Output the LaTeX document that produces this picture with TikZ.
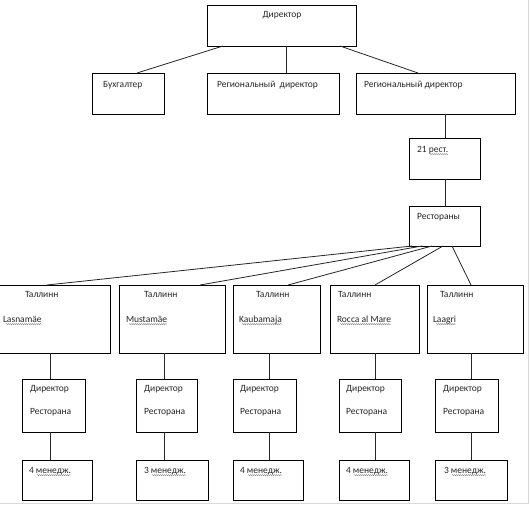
\documentclass[tikz,border=0pt]{standalone}
\usepackage{fontspec}
\setmainfont{Carlito}
\usetikzlibrary{decorations.pathmorphing}
\begin{document}
\begin{tikzpicture}[x=1bp,y=-1bp,
  box/.style={draw=black,line width=0.9bp,rectangle,inner sep=0,outer sep=0,fill=white},
  conn/.style={draw=black!85,line width=0.8bp},
  txt/.style={inner sep=0,outer sep=0,anchor=base west,font=\fontsize{9.5bp}{11bp}\selectfont,text=black!85},
  wavy/.style={draw=black!45,line width=0.4bp,decorate,decoration={snake,amplitude=0.6bp,segment length=2bp}}
]
\useasboundingbox (0,0) rectangle (530,506);
\fill[white] (0,0) rectangle (530,506);
\draw[black!15,line width=1bp] (528,0) -- (528,503) -- (0,503);

% boxes
\node[box,minimum width=149bp,minimum height=41bp] (dir) at (281.5,25.5) {};
\node[box,minimum width=72bp,minimum height=41bp] (buch) at (128,93.5) {};
\node[box,minimum width=132bp,minimum height=41bp] (reg1) at (273,93.5) {};
\node[box,minimum width=159bp,minimum height=41bp] (reg2) at (435.5,93.5) {};
\node[box,minimum width=71bp,minimum height=41bp] (r21) at (444.5,158.5) {};
\node[box,minimum width=71bp,minimum height=40bp] (rest) at (444.5,226) {};

\node[box,minimum width=112bp,minimum height=68bp] (t1) at (54,319) {};
\node[box,minimum width=106bp,minimum height=68bp] (t2) at (172,319) {};
\node[box,minimum width=87bp,minimum height=68bp] (t3) at (276.5,319) {};
\node[box,minimum width=89bp,minimum height=68bp] (t4) at (374.5,319) {};
\node[box,minimum width=96bp,minimum height=68bp] (t5) at (475,319) {};

\node[box,minimum width=63bp,minimum height=53bp] (d1) at (53.5,405.5) {};
\node[box,minimum width=61bp,minimum height=53bp] (d2) at (166.5,405.5) {};
\node[box,minimum width=63bp,minimum height=53bp] (d3) at (264.5,405.5) {};
\node[box,minimum width=62bp,minimum height=53bp] (d4) at (370,405.5) {};
\node[box,minimum width=63bp,minimum height=53bp] (d5) at (466.5,405.5) {};

\node[box,minimum width=70bp,minimum height=40bp] (m1) at (57,480) {};
\node[box,minimum width=72bp,minimum height=40bp] (m2) at (172,480) {};
\node[box,minimum width=70bp,minimum height=40bp] (m3) at (268,480) {};
\node[box,minimum width=70bp,minimum height=40bp] (m4) at (374,480) {};
\node[box,minimum width=72bp,minimum height=40bp] (m5) at (471,480) {};

% connectors
\draw[conn] (dir.south -| 223,0) -- (buch.north -| 137,0);
\draw[conn] (dir.south -| 286,0) -- (reg1.north -| 286,0);
\draw[conn] (dir.south -| 340,0) -- (reg2.north -| 418,0);
\draw[conn] (reg2.south -| 445,0) -- (r21.north -| 445,0);
\draw[conn] (r21.south -| 445,0) -- (rest.north -| 445,0);
\draw[conn] (rest.south -| 412,0) -- (t1.north -| 47,0);
\draw[conn] (rest.south -| 422,0) -- (t2.north -| 200,0);
\draw[conn] (rest.south -| 432,0) -- (t3.north -| 288,0);
\draw[conn] (rest.south -| 443,0) -- (t4.north -| 375,0);
\draw[conn] (rest.south -| 452,0) -- (t5.north -| 471,0);
\draw[conn] (t1.south -| 50,0) -- (d1.north -| 50,0);
\draw[conn] (t2.south -| 164,0) -- (d2.north -| 164,0);
\draw[conn] (t3.south -| 269,0) -- (d3.north -| 269,0);
\draw[conn] (t4.south -| 375,0) -- (d4.north -| 375,0);
\draw[conn] (t5.south -| 471,0) -- (d5.north -| 471,0);
\draw[conn] (d1.south -| 50,0) -- (m1.north -| 50,0);
\draw[conn] (d2.south -| 164,0) -- (m2.north -| 164,0);
\draw[conn] (d3.south -| 269,0) -- (m3.north -| 269,0);
\draw[conn] (d4.south -| 375,0) -- (m4.north -| 375,0);
\draw[conn] (d5.south -| 471,0) -- (m5.north -| 471,0);

% texts
\node[txt,anchor=base] (tdir) at (282,17.5) {Директор};
\node[txt] (tbuch) at (103,87.5) {Бухгалтер};
\node[txt] (treg1) at (217,87.5) {Региональный\ \ директор};
\node[txt] (treg2) at (364,87.5) {Региональный директор};
\node[txt] (tn21) at (417,152.5) {21};
\node[txt] (tr21) at (tn21.base east) {\ рест.};
\node[txt] (trest) at (417,219.5) {Рестораны};

\node[txt] (tt1) at (25,297.5) {Таллинн};
\node[txt] (tt2) at (144,297.5) {Таллинн};
\node[txt] (tt3) at (256,297.5) {Таллинн};
\node[txt] (tt4) at (338,297.5) {Таллинн};
\node[txt] (tt5) at (440,297.5) {Таллинн};
\node[txt] (tp1) at (3,322.5) {Lasnamäe};
\node[txt] (tp2) at (126,322.5) {Mustamäe};
\node[txt] (tp3) at (239,322.5) {Kaubamaja};
\node[txt] (tp4) at (337,322.5) {Rocca al Mare};
\node[txt] (tp5) at (433,322.5) {Laagri};

\foreach \i/\x in {1/30,2/144,3/240,4/346,5/443}{
  \node[txt] (td\i) at (\x,391.5) {Директор};
  \node[txt] (tr\i) at (\x,414.5) {Ресторана};
}
\foreach \i/\x/\n in {1/29/4,2/144/3,3/240/4,4/346/4,5/444/3}{
  \node[txt] (tmn\i) at (\x,473.5) {\n};
  \node[txt] (tm\i) at (tmn\i.base east) {\ менедж.};
}

% spell-check underlines
\foreach \n in {tp1,tp2,tp3,tp4,tp5,tm1,tm2,tm3,tm4,tm5}{
  \draw[wavy] ([xshift=3bp,yshift=-1.6bp]\n.base west) -- ([yshift=-1.6bp]\n.base east);
}
\draw[wavy] ([xshift=3bp,yshift=-1.6bp]tr21.base west) -- ([yshift=-1.6bp]tr21.base east);
\end{tikzpicture}
\end{document}
